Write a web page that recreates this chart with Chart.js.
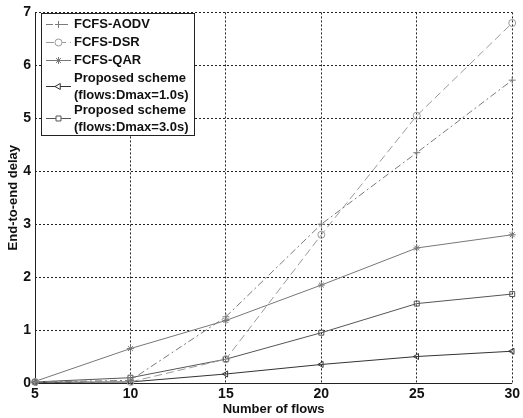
<!DOCTYPE html>
<html>
<head>
<meta charset="utf-8">
<script src="https://cdn.jsdelivr.net/npm/chart.js@4.4.0/dist/chart.umd.min.js"></script>
<style>
    html, body { margin: 0; padding: 0; background: #fff; }
</style>
</head>
<body>
<canvas id="delayChart" width="523" height="418"></canvas>
<script>
// values
const flows = [5, 10, 15, 20, 25, 30];
const fcfsAodv = [0.02, 0.05, 1.25, 3.0, 4.35, 5.72];
const fcfsDsr = [0.02, 0.02, 0.45, 2.8, 5.05, 6.8];
const fcfsQar = [0.03, 0.65, 1.18, 1.85, 2.55, 2.8];
const proposed1 = [0.01, 0.02, 0.17, 0.35, 0.5, 0.6];
const proposed3 = [0.02, 0.1, 0.45, 0.95, 1.5, 1.68];

const xTicks = [5, 10, 15, 20, 25, 30];
const yTicks = [0, 1, 2, 3, 4, 5, 6, 7];

const FONT = "'Liberation Sans', Arial, sans-serif";

const toPoints = (vals) => vals.map((v, i) => ({ x: flows[i], y: v }));

const series = [
    { label: ["FCFS-AODV"], data: fcfsAodv, color: "#7a7a7a", dash: [7, 3, 2, 3], point: "cross", rot: 0 },
    { label: ["FCFS-DSR"], data: fcfsDsr, color: "#9a9a9a", dash: [8, 4], point: "circle", rot: 0 },
    { label: ["FCFS-QAR"], data: fcfsQar, color: "#777", dash: [], point: "star", rot: 0 },
    { label: ["Proposed scheme", "(flows:Dmax=1.0s)"], data: proposed1, color: "#333", dash: [], point: "triangle", rot: -90 },
    { label: ["Proposed scheme", "(flows:Dmax=3.0s)"], data: proposed3, color: "#555", dash: [], point: "rect", rot: 0 },
];

// solid left/bottom axis lines (grid is dotted)
const solidAxes = {
    id: "solidAxes",
    beforeDatasetsDraw(chart) {
        const { ctx, chartArea: a } = chart;
        ctx.save();
        ctx.strokeStyle = "#222";
        ctx.lineWidth = 1;
        ctx.setLineDash([]);
        ctx.beginPath();
        ctx.moveTo(Math.round(a.left) + 0.5, a.top);
        ctx.lineTo(Math.round(a.left) + 0.5, Math.round(a.bottom) + 0.5);
        ctx.lineTo(a.right, Math.round(a.bottom) + 0.5);
        ctx.stroke();
        ctx.restore();
    },
};

// boxed legend drawn inside the plot, like the matlab one
const boxLegend = {
    id: "boxLegend",
    afterDraw(chart) {
        const ctx = chart.ctx;
        const bx = 41, by = 13, bw = 153, bh = 122;
        ctx.save();
        ctx.fillStyle = "#fff";
        ctx.fillRect(bx, by, bw, bh);
        ctx.strokeStyle = "#222";
        ctx.lineWidth = 1;
        ctx.strokeRect(bx + 0.5, by + 0.5, bw, bh);

        const rows = [24, 42, 60, 86, 118];
        ctx.font = "bold 13px " + FONT;
        ctx.textBaseline = "middle";
        chart.data.datasets.forEach((ds, i) => {
            const y = rows[i] + 0.5;
            ctx.strokeStyle = ds.borderColor;
            ctx.lineWidth = 1;
            ctx.setLineDash(ds.borderDash || []);
            ctx.beginPath();
            ctx.moveTo(46, y);
            ctx.lineTo(71, y);
            ctx.stroke();
            ctx.setLineDash([]);
            ctx.fillStyle = "#fff";
            ctx.strokeStyle = ds.borderColor;
            Chart.helpers.drawPoint(ctx, {
                pointStyle: ds.pointStyle,
                radius: ds.pointRadius,
                rotation: ds.pointRotation || 0,
                borderWidth: 1,
            }, 58.5, y);

            ctx.fillStyle = "#111";
            const lines = series[i].label;
            if (lines.length === 1) {
                ctx.fillText(lines[0], 74, y);
            } else {
                ctx.fillText(lines[0], 74, y - 8);
                ctx.fillText(lines[1], 74, y + 9);
            }
        });
        ctx.restore();
    },
};

const ctx = document.getElementById("delayChart").getContext("2d");

new Chart(ctx, {
    type: "line",
    data: {
        datasets: series.map((s) => ({
            label: s.label.join(" "),
            data: toPoints(s.data),
            borderColor: s.color,
            backgroundColor: "transparent",
            borderWidth: 1,
            borderDash: s.dash,
            pointStyle: s.point,
            pointRotation: s.rot,
            pointRadius: 3.5,
            pointBorderColor: s.color,
            pointBackgroundColor: "transparent",
            pointBorderWidth: 1,
            tension: 0,
            clip: false,
        })),
    },
    plugins: [solidAxes, boxLegend],
    options: {
        responsive: false,
        animation: false,
        layout: { padding: { top: 9, right: 7, left: 0, bottom: 0 } },
        plugins: {
            legend: { display: false },
            tooltip: { enabled: false },
        },
        scales: {
            x: {
                type: "linear",
                min: 5,
                max: 30,
                afterBuildTicks: (scale) => {
                    scale.ticks = xTicks.map((v) => ({ value: v }));
                },
                afterFit: (scale) => {
                    scale.height = 35;
                },
                border: { display: false, dash: [2, 2] },
                grid: {
                    color: (c) => (c.tick && c.tick.value === 5 ? "rgba(0,0,0,0)" : "#222"),
                    lineWidth: 1,
                    drawTicks: false,
                },
                ticks: {
                    color: "#111",
                    padding: 3,
                    font: { family: FONT, size: 14, weight: "bold" },
                },
                title: {
                    display: true,
                    text: "Number of flows",
                    color: "#111",
                    padding: { top: 0, bottom: 1 },
                    font: { family: FONT, size: 13, weight: "bold" },
                },
            },
            y: {
                type: "linear",
                min: 0,
                max: 7,
                afterBuildTicks: (scale) => {
                    scale.ticks = yTicks.map((v) => ({ value: v }));
                },
                afterFit: (scale) => {
                    scale.width = 35;
                },
                border: { display: false, dash: [2, 2] },
                grid: {
                    color: (c) => (c.tick && c.tick.value === 0 ? "rgba(0,0,0,0)" : "#222"),
                    lineWidth: 1,
                    drawTicks: false,
                },
                ticks: {
                    color: "#111",
                    padding: 4,
                    font: { family: FONT, size: 14, weight: "bold" },
                },
                title: {
                    display: true,
                    text: "End-to-end delay",
                    color: "#111",
                    padding: { top: 6, bottom: 0 },
                    font: { family: FONT, size: 13, weight: "bold" },
                },
            },
        },
    },
});
</script>
</body>
</html>
